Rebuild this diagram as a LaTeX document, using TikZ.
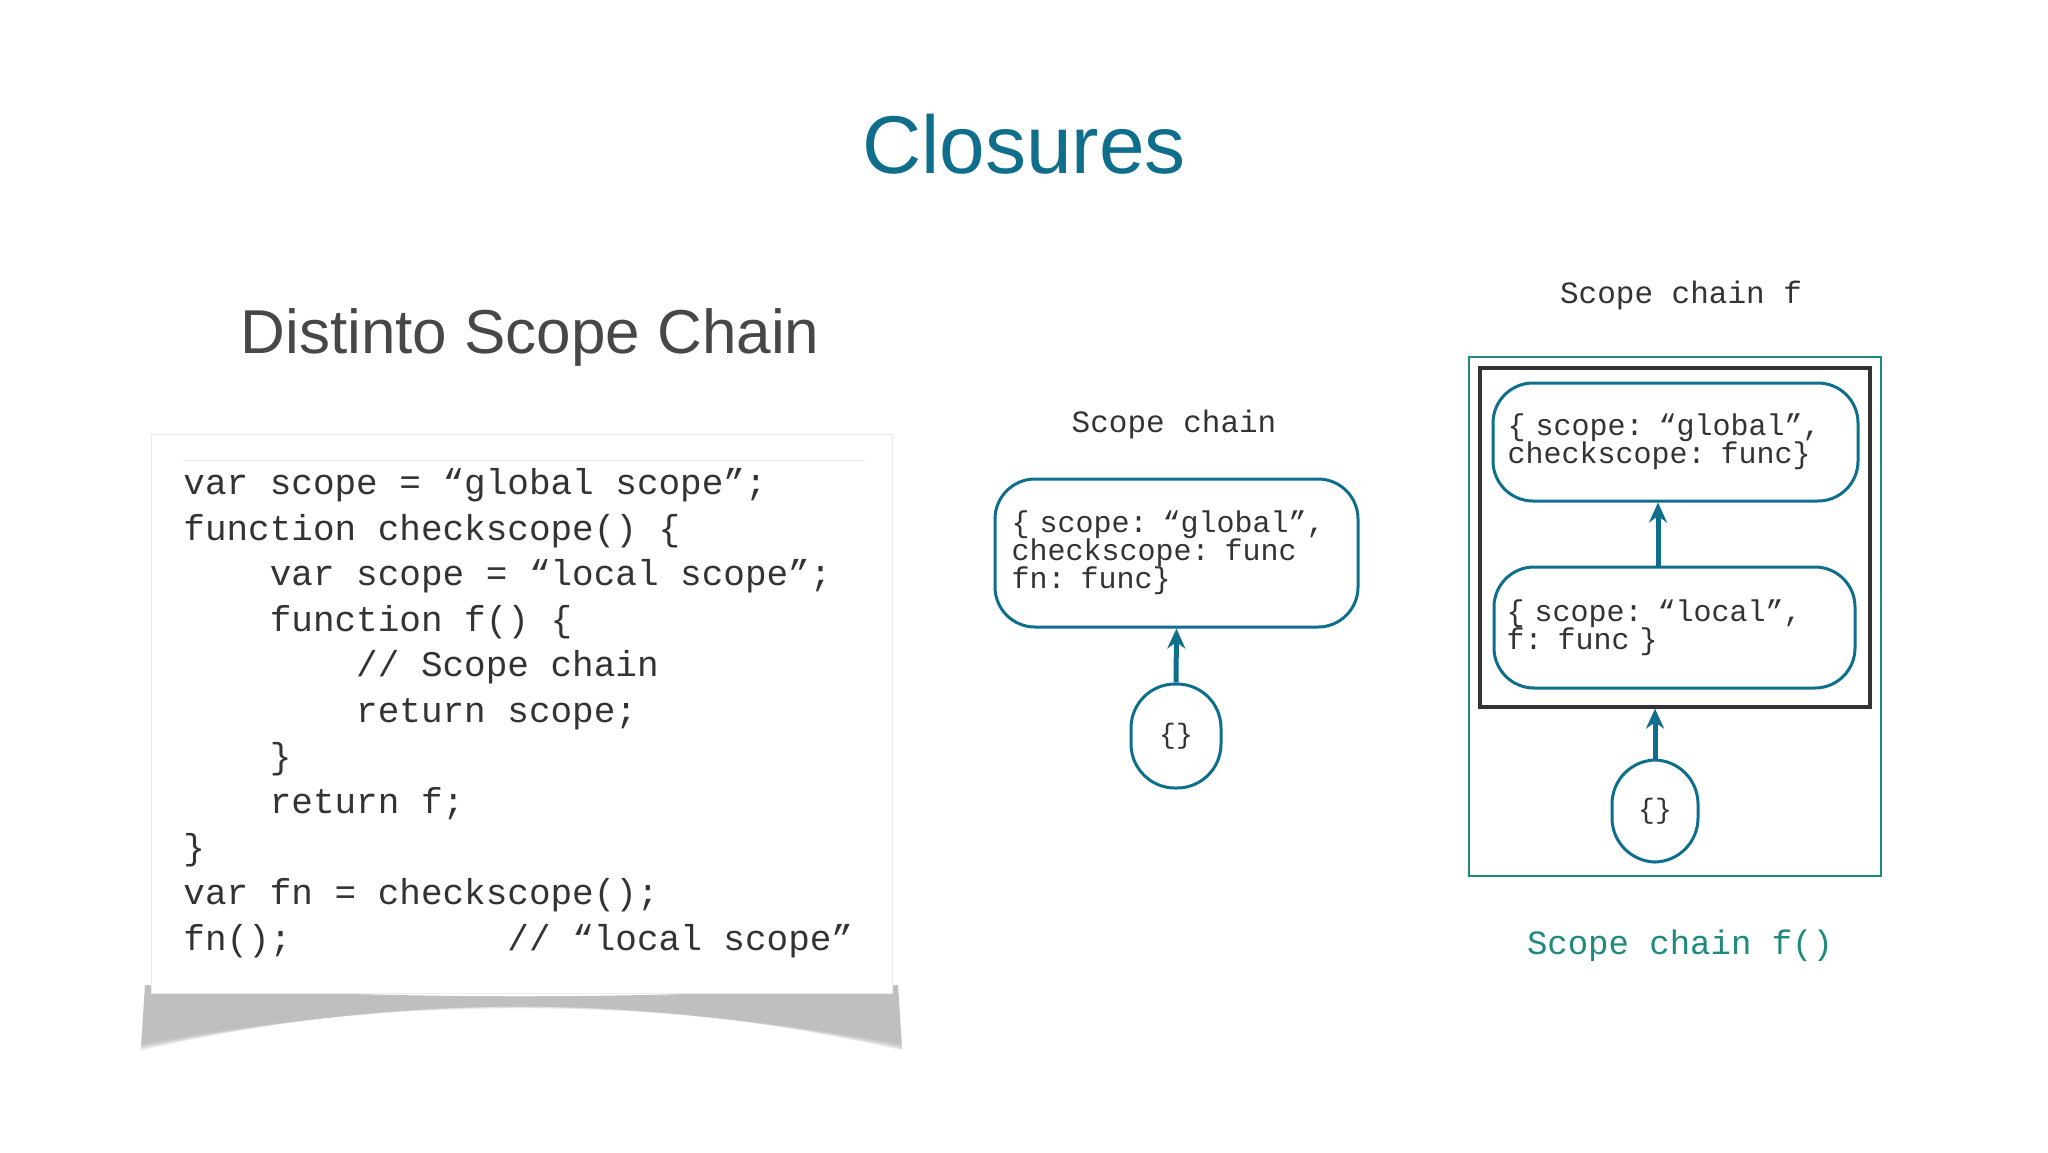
\documentclass[tikz,border=0pt]{standalone}
\usepackage{fontspec}
\setmainfont{Liberation Sans}
\newfontfamily\codefont{Liberation Mono}
\usetikzlibrary{arrows.meta}
\definecolor{teal1}{HTML}{0E6E8C}
\definecolor{teal2}{HTML}{1D8A7C}
\definecolor{ink}{HTML}{333333}
\tikzset{
  code/.style={font=\codefont\fontsize{18}{22.8}\selectfont, text=ink, align=left, inner sep=0pt},
  obj/.style={draw=teal1, line width=1.5pt, rounded corners=20pt, font=\codefont\fontsize{15}{14}\selectfont, text=ink, align=left, inner sep=0pt},
  oval/.style={draw=teal1, line width=1.5pt, rounded corners=22pt},
  arr/.style={draw=teal1, line width=2.5pt, -{Stealth[length=10pt,width=9pt]}},
}
\begin{document}
\begin{tikzpicture}[x=0.5pt,y=-0.5pt]
\useasboundingbox (0,0) rectangle (2048,1152);
\node[text=teal1, font=\fontsize{41}{45}\selectfont] (title) at (1024,144) {Closures};
\node[text=ink!90, font=\fontsize{31}{35}\selectfont] (sub) at (530,337) {Distinto Scope Chain};
% shadow
\foreach \o in {0.04,0.06,0.08,0.1}{
  \fill[black, opacity=\o] (145,985) .. controls (400,1000) and (640,1000) .. (898,985) -- (902,1040+\o*100) .. controls (640,1000-\o*80) and (400,1000-\o*80) .. (141,1040+\o*100) -- cycle;
}
\fill[white, draw=black!8] (151,434) rectangle (892,993);
\node (panel) at (521,713) {};
\draw[black!10] (183,460) -- (865,460);
\node[code, anchor=north west] (codetxt) at (183,468) {%
var scope = “global scope”;\\
function checkscope() \{\\
\ \ \ \ var scope = “local scope”;\\
\ \ \ \ function f() \{\\
\ \ \ \ \ \ \ \ // Scope chain\\
\ \ \ \ \ \ \ \ return scope;\\
\ \ \ \ \}\\
\ \ \ \ return f;\\
\}\\
var fn = checkscope();\\
fn();\ \ \ \ \ \ \ \ \ \ // “local scope”};
% middle
\node[code, font=\codefont\fontsize{15.5}{18}\selectfont] (lab1) at (1174,424) {Scope chain};
\node[obj, minimum width=181.5pt, minimum height=74pt, text width=165pt] (g1) at (1176.5,553) {\{ scope: “global”,\\checkscope: func\\fn: func\}};
\node[oval, minimum width=45pt, minimum height=52pt, font=\codefont\fontsize{14}{14}\selectfont, text=ink] (e1) at (1176,736) {\{\}};
\draw[arr] (e1.north) -- (g1.south);
% right
\node[code, font=\codefont\fontsize{15.5}{18}\selectfont] (lab2) at (1681,295) {Scope chain f};
\draw[teal2, line width=1.3pt] (1469,357) rectangle (1881,876);
\node[draw=ink, line width=1.6pt, minimum width=195pt, minimum height=169.5pt, inner sep=0pt] (inner) at (1675,537.5) {};
\node[obj, minimum width=182.5pt, minimum height=59pt, text width=168pt] (g2) at (1675.5,442) {\{ scope: “global”,\\checkscope: func\}};
\node[obj, minimum width=180.5pt, minimum height=60.5pt, text width=168pt] (l2) at (1674.5,627.5) {\{ scope: “local”,\\f: func \}};
\node[oval, minimum width=43pt, minimum height=51pt, font=\codefont\fontsize{14}{14}\selectfont, text=ink] (e2) at (1655,811) {\{\}};
\draw[arr] (l2.north -| 1658,0) -- (g2.south -| 1658,0);
\draw[arr] (e2.north) -- (inner.south -| e2.north);
\node[code, font=\codefont\fontsize{17}{18}\selectfont, text=teal2] (lab3) at (1680,946) {Scope chain f()};
\end{tikzpicture}
\end{document}
